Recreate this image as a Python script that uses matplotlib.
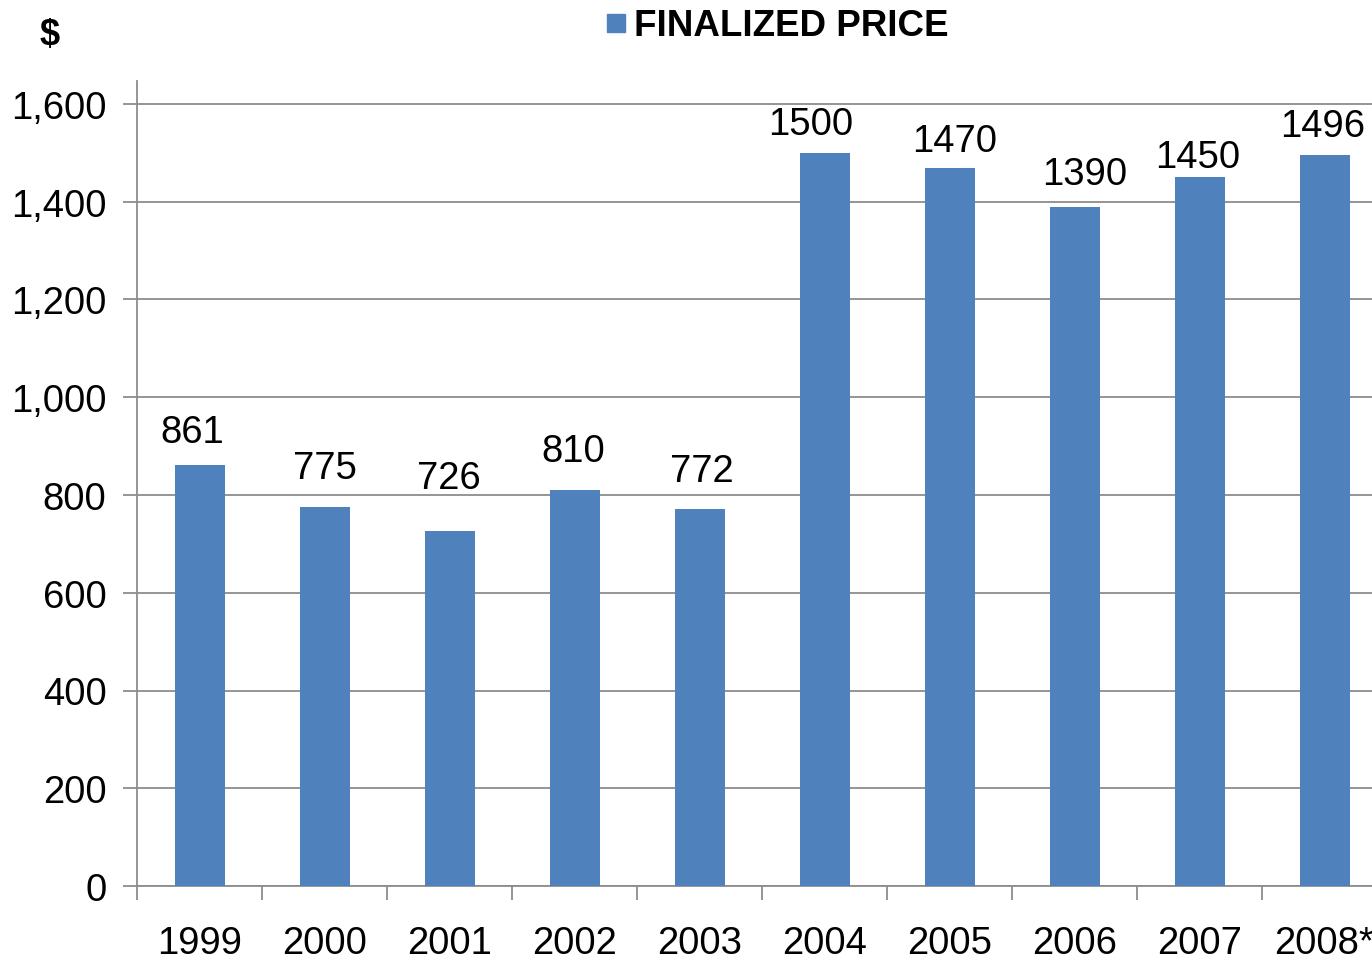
import matplotlib
matplotlib.use('Agg')
import numpy as np
import matplotlib.pyplot as plt
from matplotlib.patches import Rectangle

years = ['1999', '2000', '2001', '2002', '2003', '2004', '2005', '2006', '2007', '2008*']
prices = [861, 775, 726, 810, 772, 1500, 1470, 1390, 1450, 1496]
yticks = [0, 200, 400, 600, 800, 1000, 1200, 1400, 1600]

# hand-placed data label offsets in pixels (dx, dy above bar top), as in the original
label_dx = [-7, 0, -1, -1, 2, -14, 5, 10, -2, -2]
label_dy = [33, 39, 53, 39, 38, 29, 27, 33, 20, 29]

plt.rcParams['font.family'] = ['Liberation Sans', 'DejaVu Sans']
bar_color = '#4F81BD'
grid_color = '#8C8C8C'
fs = 27.5

fig = plt.figure(figsize=(13.72, 9.62), dpi=100)
W, H = 1372, 962
px = 72 / 100  # points per pixel
# axes extends past the right edge of the figure, like the original
ax = fig.add_axes([137 / W, 1 - 887 / H, 1250 / W, (887 - 82) / H])

x = np.arange(len(years))
ax.bar(x, prices, width=0.4, color=bar_color, zorder=3)
for xi, v, dx, dy in zip(x, prices, label_dx, label_dy):
    ax.annotate(str(v), (xi, v), xytext=(dx * px, dy * px), textcoords='offset points',
                ha='center', va='center', fontsize=fs)

ax.set_xlim(-0.5, len(years) - 0.5)
ax.set_ylim(0, (887 - 82) / 782 * 1600)
ax.set_yticks(yticks)
ax.set_yticklabels([f'{t:,}' for t in yticks], fontsize=fs)
ax.yaxis.grid(True, color=grid_color, linewidth=1.3, zorder=0)
ax.tick_params(axis='y', length=10, width=1.3, color=grid_color, pad=12)

ax.set_xticks(x)
ax.set_xticklabels(years, fontsize=fs)
ax.set_xticks(np.arange(len(years) + 1) - 0.5, minor=True)
ax.tick_params(axis='x', which='major', length=0, pad=28)
ax.tick_params(axis='x', which='minor', length=10, width=1.3, color=grid_color)

for s in ['top', 'right']:
    ax.spines[s].set_visible(False)
for s in ['left', 'bottom']:
    ax.spines[s].set_color(grid_color)
    ax.spines[s].set_linewidth(1.3)

# legend and unit label
fig.patches.append(Rectangle((607 / W, 1 - 33 / H), 18 / W, 18 / H,
                             transform=fig.transFigure, color=bar_color))
fig.text(634 / W, 1 - 26 / H, 'FINALIZED PRICE', fontsize=26.5, fontweight='bold',
         va='center', ha='left')
fig.text(50 / W, 1 - 35 / H, '$', fontsize=26, fontweight='bold', va='center', ha='center')

fig.savefig('out.png', dpi=100)
